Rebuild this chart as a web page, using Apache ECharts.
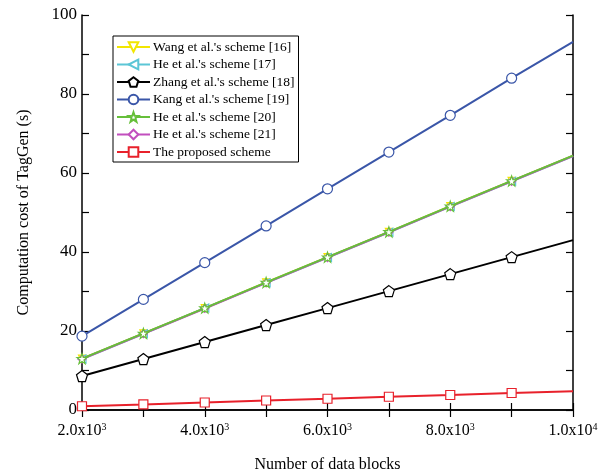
<!DOCTYPE html>
<html>
<head>
<meta charset="utf-8">
<script src="https://cdn.jsdelivr.net/npm/echarts@6/dist/echarts.min.js"></script>
<style>
  html, body { margin: 0; padding: 0; background: #fff; }
  #chart { width: 613px; height: 472px; }
</style>
</head>
<body>
<div id="chart"></div>
<script>
// number of data blocks
const blocks = [2000, 3000, 4000, 5000, 6000, 7000, 8000, 9000, 10000]
// computation cost (s)
const wang16 = [13.0, 19.4, 25.8, 32.3, 38.7, 45.1, 51.6, 58.0, 64.4]
const he17 = [12.9, 19.3, 25.8, 32.2, 38.6, 45.0, 51.5, 57.9, 64.3]
const zhang18 = [8.6, 12.9, 17.2, 21.5, 25.8, 30.1, 34.4, 38.7, 43.0]
const kang19 = [18.7, 28.0, 37.3, 46.6, 56.0, 65.3, 74.6, 84.0, 93.2]
const he20 = [13.0, 19.4, 25.8, 32.3, 38.7, 45.1, 51.6, 58.0, 64.4]
const he21 = [12.9, 19.3, 25.7, 32.2, 38.6, 45.0, 51.5, 57.9, 64.3]
const proposed = [0.95, 1.4, 1.9, 2.4, 2.85, 3.35, 3.8, 4.3, 4.75]
const xTickLabels = {2000: '2.0', 4000: '4.0', 6000: '6.0', 8000: '8.0', 10000: '1.0'}
const xTickExp = {2000: '3', 4000: '3', 6000: '3', 8000: '3', 10000: '4'}

const font = 'Liberation Serif'
const pentagon = 'path://M0,-10 L9.51,-3.09 L5.88,8.09 L-5.88,8.09 L-9.51,-3.09 Z'
const star = 'path://M0,-10 L2.35,-3.24 L9.51,-3.09 L3.8,1.24 L5.88,8.09 L0,4 L-5.88,8.09 L-3.8,1.24 L-9.51,-3.09 L-2.35,-3.24 Z'
const triDown = 'path://M-10,-8 L10,-8 L0,9 Z'
const triLeft = 'path://M-9,0 L8,-10 L8,10 Z'

function pts(vals){
  return vals.map((v, i) => {
    if (i === vals.length - 1) return {value: [blocks[i], v], symbol: 'none'}
    return [blocks[i], v]
  })
}

function mk(name, vals, color, symbol, size, z){
  return {
    name: name,
    type: 'line',
    data: pts(vals),
    symbol: symbol,
    symbolSize: size,
    showAllSymbol: true,
    z: z,
    lineStyle: {color: color, width: 2},
    itemStyle: {color: '#fff', borderColor: color, borderWidth: 1.2},
    emphasis: {disabled: true}
  }
}

const axisCommon = {
  axisLine: {lineStyle: {color: '#000', width: 1.5}},
  axisTick: {inside: true, length: 7, lineStyle: {color: '#000', width: 1.2}},
  minorTick: {show: true, splitNumber: 2, length: 7, lineStyle: {color: '#000', width: 1.2}},
  splitLine: {show: false}
}

const option = {
  backgroundColor: '#fff',
  animation: false,
  grid: {left: 82, right: 40, top: 15, bottom: 62, outerBoundsMode: 'none', containLabel: false},
  legend: {
    orient: 'vertical',
    left: 113,
    top: 36,
    padding: [4, 4, 3, 3],
    borderColor: '#000',
    borderWidth: 1,
    itemWidth: 33,
    itemHeight: 12,
    itemGap: 3.5,
    textStyle: {fontFamily: font, fontSize: 13.5, color: '#000', padding: [0, 0, 0, -2]},
    symbolRotate: 'inherit'
  },
  xAxis: [Object.assign({
    type: 'value', min: 2000, max: 10000, interval: 2000,
    name: 'Number of data blocks', nameLocation: 'middle', nameGap: 47,
    nameTextStyle: {fontFamily: font, fontSize: 16, color: '#000'},
    axisLabel: {
      margin: 12, color: '#000',
      formatter: v => '{b|' + xTickLabels[v] + 'x10}{s|' + xTickExp[v] + '}',
      rich: {
        b: {fontFamily: font, fontSize: 16, color: '#000'},
        s: {fontFamily: font, fontSize: 10, color: '#000', padding: [0, 0, 8, 0]}
      }
    }
  }, axisCommon), Object.assign({
    type: 'value', min: 2000, max: 10000, interval: 2000, position: 'top',
    axisLabel: {show: false}
  }, axisCommon)],
  yAxis: [Object.assign({
    type: 'value', min: 0, max: 100, interval: 20,
    name: 'Computation cost of TagGen (s)', nameLocation: 'middle', nameGap: 50,
    nameTextStyle: {fontFamily: font, fontSize: 16, color: '#000'},
    axisLabel: {fontFamily: font, fontSize: 17, color: '#000', margin: 5}
  }, axisCommon), Object.assign({
    type: 'value', min: 0, max: 100, interval: 20, position: 'right',
    axisLabel: {show: false}
  }, axisCommon)],
  series: [
    mk("Wang et al.'s scheme [16]", wang16, '#f2e600', triDown, 7, 2),
    mk("He et al.'s scheme [17]", he17, '#5cc6d6', triLeft, 8, 3),
    mk("Zhang et al.'s scheme [18]", zhang18, '#000000', pentagon, 11, 4),
    mk("Kang et al.'s scheme [19]", kang19, '#3a56a8', 'circle', 10, 5),
    mk("He et al.'s scheme [20]", he20, '#66bf3a', star, 10, 7),
    mk("He et al.'s scheme [21]", he21, '#c24fbe', 'diamond', 8, 6),
    mk('The proposed scheme', proposed, '#e8212b', 'rect', 9, 8)
  ]
}

const myChart = echarts.init(document.getElementById('chart'))
myChart.setOption(option)
</script>
</body>
</html>
